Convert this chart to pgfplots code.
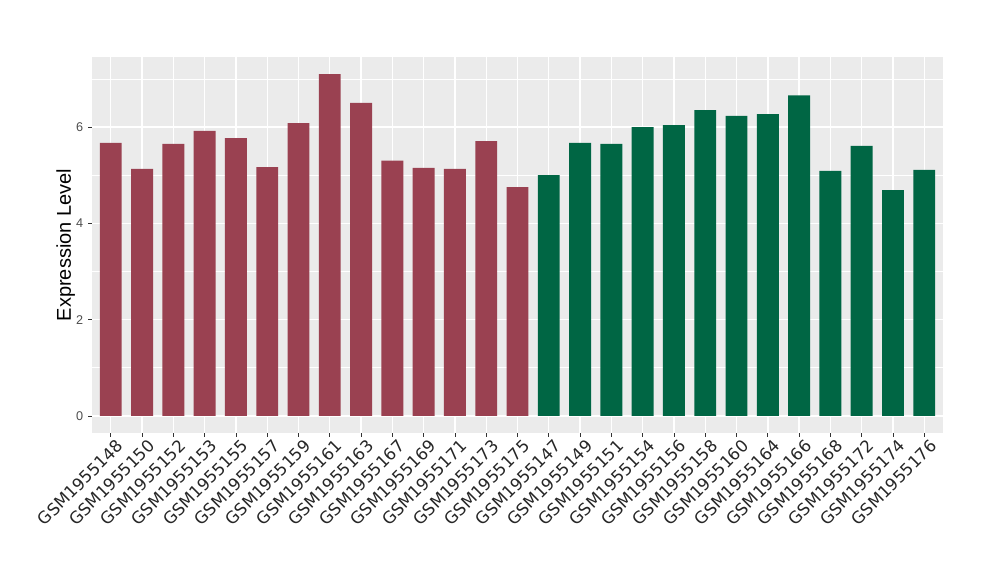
\documentclass[border=0pt]{standalone}
\usepackage{pgfplots}
\pgfplotsset{compat=1.18}
\usepackage{fontspec}
\setmainfont{Liberation Sans}
\newfontfamily\dejavu{DejaVu Sans}
\definecolor{redbar}{RGB}{154,65,81}
\definecolor{greenbar}{RGB}{0,102,68}
\definecolor{panel}{RGB}{235,235,235}
\begin{document}
\begin{tikzpicture}[x=1pt,y=1pt]
\path[use as bounding box] (0,0) rectangle (750,435);
\begin{axis}[
  at={(69pt,110.25pt)}, anchor=south west,
  scale only axis, width=638.25pt, height=282pt,
  xmin=-0.6, xmax=26.6, ymin=-0.355, ymax=7.455,
  axis background/.style={fill=panel},
  axis line style={draw=none},
  xtick={0,...,26},
  xticklabels={GSM1955148,GSM1955150,GSM1955152,GSM1955153,GSM1955155,GSM1955157,GSM1955159,GSM1955161,GSM1955163,GSM1955167,GSM1955169,GSM1955171,GSM1955173,GSM1955175,GSM1955147,GSM1955149,GSM1955151,GSM1955154,GSM1955156,GSM1955158,GSM1955160,GSM1955164,GSM1955166,GSM1955168,GSM1955172,GSM1955174,GSM1955176},
  ytick={0,2,4,6},
  minor ytick={1,3,5,7},
  xtick pos=bottom, ytick pos=left,
  xmajorgrids, ymajorgrids, yminorgrids,
  major grid style={white, line width=1.05pt},
  minor grid style={white, line width=0.5pt},
  tick align=outside,
  major tick length=3pt,
  minor tick length=0pt,
  tick style={black!80, line width=0.5pt},
  xticklabel style={rotate=45, anchor=north east, font=\dejavu\fontsize{12.5}{12.5}\selectfont, text=black!85, inner sep=1pt, xshift=3pt, yshift=-2pt},
  yticklabel style={font=\fontsize{9.5}{9.5}\selectfont, text=black!70},
  /pgf/number format/assume math mode=true,
  ylabel={Expression Level},
  ylabel style={font=\fontsize{15}{15}\selectfont, yshift=-6pt},
  ybar, bar width=0.7, bar shift=0pt,
  clip=false,
]
\addplot[fill=redbar, draw=none] coordinates {
(0,5.67) (1,5.13) (2,5.65) (3,5.92) (4,5.77) (5,5.17) (6,6.08) (7,7.10) (8,6.50) (9,5.30) (10,5.15) (11,5.13) (12,5.71) (13,4.75)};
\addplot[fill=greenbar, draw=none] coordinates {
(14,5.00) (15,5.67) (16,5.65) (17,6.00) (18,6.04) (19,6.35) (20,6.23) (21,6.27) (22,6.66) (23,5.09) (24,5.61) (25,4.69) (26,5.11)};
\end{axis}
\end{tikzpicture}
\end{document}
